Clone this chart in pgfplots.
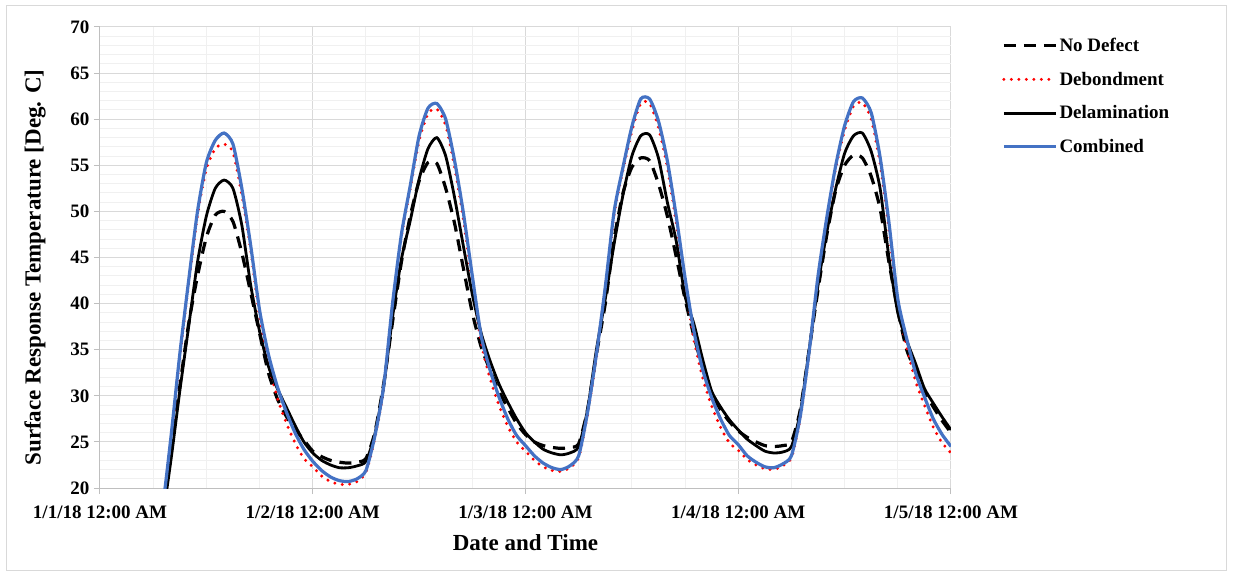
\documentclass[border=0pt]{standalone}
\usepackage{pgfplots}
\pgfplotsset{compat=1.18}
\usepackage{pgfplotstable}
\usepackage{fontspec}
\setmainfont{Liberation Serif}

\definecolor{combblue}{HTML}{4472C4}
\definecolor{majgrid}{HTML}{D9D9D9}
\definecolor{mingrid}{HTML}{F0F0F0}
\definecolor{axgray}{HTML}{BFBFBF}

% hours from 1/1/18 12:00 AM
\pgfplotstableread{
h  nd   deb  del  comb
5  11.5 11.8 11.5 12.0
6  12.8 13.3 13.0 13.5
7  17.0 17.3 16.5 17.5
8  24.0 25.2 23.0 25.5
9  31.0 34.2 30.5 34.5
10 37.8 42.2 37.5 42.5
11 43.0 49.6 44.5 50.0
12 47.2 54.6 49.5 55.3
13 49.6 56.8 52.5 57.7
14 50.0 57.3 53.4 58.5
15 48.9 56.4 52.5 57.3
16 45.5 51.8 48.5 52.5
17 41.2 45.8 42.0 46.3
18 36.8 38.6 37.0 39.3
19 32.5 33.5 33.2 34.5
20 29.7 29.8 30.8 31.0
21 27.8 27.1 28.8 28.3
22 26.4 24.9 26.8 26.0
23 25.2 23.2 25.0 24.2
24 24.0 22.3 23.8 22.9
25 23.4 21.3 23.0 21.9
26 23.0 20.7 22.5 21.2
27 22.8 20.4 22.2 20.8
28 22.7 20.4 22.2 20.7
29 22.8 20.7 22.4 21.0
30 23.2 21.7 22.9 21.9
31 26.0 25.4 25.8 25.6
32 31.3 30.8 31.0 31.0
33 38.0 39.8 38.5 40.0
34 44.5 47.3 44.8 47.5
35 49.5 52.5 49.0 52.8
36 53.3 57.7 53.5 58.2
37 55.3 60.6 56.8 61.2
38 55.2 61.1 58.0 61.7
39 52.5 59.3 56.0 60.0
40 48.7 54.8 51.5 55.5
41 43.8 49.1 46.2 49.8
42 39.0 42.3 41.0 43.0
43 35.3 35.8 36.8 36.5
44 32.8 31.9 33.8 32.8
45 30.5 29.0 31.3 29.9
46 28.7 26.7 29.3 27.5
47 27.0 25.0 27.5 25.7
48 25.8 24.0 26.0 24.6
49 25.0 23.0 25.0 23.5
50 24.6 22.3 24.2 22.7
51 24.4 21.9 23.8 22.2
52 24.3 21.8 23.6 22.0
53 24.4 22.2 23.8 22.4
54 24.8 23.3 24.5 23.5
55 28.5 28.0 28.5 28.2
56 34.5 34.3 35.0 34.5
57 40.0 41.6 40.5 41.8
58 47.0 49.7 46.5 50.0
59 52.0 54.5 51.8 54.8
60 54.8 58.7 56.0 59.2
61 55.8 61.7 58.2 62.2
62 55.5 61.7 58.3 62.2
63 53.0 59.1 55.8 59.8
64 49.5 54.8 51.0 55.5
65 45.1 48.8 46.8 49.5
66 40.5 42.1 40.8 42.8
67 36.5 36.1 37.8 37.0
68 33.0 31.9 33.9 32.8
69 30.3 28.9 30.5 29.8
70 28.5 26.6 28.8 27.5
71 27.2 24.9 27.4 25.7
72 26.2 24.1 26.3 24.7
73 25.5 23.1 25.3 23.5
74 25.0 22.5 24.6 22.8
75 24.6 22.1 24.0 22.3
76 24.5 22.0 23.8 22.2
77 24.6 22.4 23.9 22.6
78 25.0 23.3 24.5 23.5
79 28.5 27.6 28.2 27.8
80 35.0 34.6 35.0 34.8
81 41.5 42.8 42.0 43.0
82 47.5 49.1 47.8 49.4
83 52.3 54.7 52.5 55.0
84 55.0 58.8 56.3 59.3
85 56.1 61.4 58.2 61.9
86 55.8 61.8 58.5 62.3
87 53.8 60.0 56.5 60.7
88 50.3 55.2 52.5 55.9
89 44.5 48.1 45.0 48.8
90 39.3 39.8 39.0 40.5
91 35.0 35.3 36.0 36.2
92 32.8 31.6 33.5 32.5
93 30.5 29.0 30.8 29.9
94 28.8 26.6 29.2 27.5
95 27.3 24.9 27.7 25.8
96 26.0 23.8 26.3 24.5
}\temps

\begin{document}
\begin{tikzpicture}
\path[use as bounding box] (-100pt,-88pt) rectangle (1133pt,488pt);
\draw[black!15, line width=1pt] (-93pt,-82pt) rectangle (1126pt,482pt);
\begin{axis}[
  scale only axis,
  width=851pt, height=461pt,
  xmin=0, xmax=96, ymin=20, ymax=70,
  enlargelimits=false,
  axis x line*=bottom, axis y line*=left,
  axis line style={axgray, line width=1pt},
  xtick={0,24,48,72,96},
  xticklabels={1/1/18 12:00 AM,1/2/18 12:00 AM,1/3/18 12:00 AM,1/4/18 12:00 AM,1/5/18 12:00 AM},
  minor xtick={6,12,18,30,36,42,54,60,66,78,84,90},
  ytick={20,25,...,70},
  minor ytick={21,22,23,24,26,27,28,29,31,32,33,34,36,37,38,39,41,42,43,44,46,47,48,49,51,52,53,54,56,57,58,59,61,62,63,64,66,67,68,69},
  tick align=outside,
  major tick length=6pt, minor tick length=0pt,
  tick style={axgray, line width=1pt},
  grid=both,
  major grid style={majgrid, line width=1pt},
  minor grid style={mingrid, line width=1pt},
  /pgf/number format/assume math mode=true,
  tick label style={font=\fontsize{19}{21}\selectfont\bfseries},
  xticklabel style={yshift=-8pt},
  yticklabel style={xshift=-1pt},
  xlabel={Date and Time},
  ylabel={Surface Response Temperature [Deg. C]},
  label style={font=\fontsize{23}{26}\selectfont\bfseries},
  xlabel style={at={(axis description cs:0.5,0)}, anchor=center, yshift=-55pt},
  ylabel style={at={(axis description cs:0,0.5)}, anchor=center, yshift=65pt, xshift=-10pt},
  legend style={at={(1,1)}, anchor=north west, xshift=48pt, yshift=-7pt,
    draw=none, fill=none, font=\fontsize{19}{21}\selectfont\bfseries,
    row sep=15pt, cells={anchor=west}},
  legend image code/.code={\draw[#1] (0pt,0pt) -- (52pt,0pt);},
  every axis plot/.append style={smooth, tension=0.4},
]
\addplot[black, line width=3.2pt, dash pattern=on 12pt off 8pt] table[x=h, y=nd] {\temps};
\addlegendentry{No Defect}
\addplot[red, line width=3.3pt, line cap=round, dash pattern=on 0pt off 7.5pt] table[x=h, y=deb] {\temps};
\addlegendentry{Debondment}
\addplot[black, line width=2.8pt] table[x=h, y=del] {\temps};
\addlegendentry{Delamination}
\addplot[combblue, line width=3.2pt] table[x=h, y=comb] {\temps};
\addlegendentry{Combined}
\end{axis}
\end{tikzpicture}
\end{document}
